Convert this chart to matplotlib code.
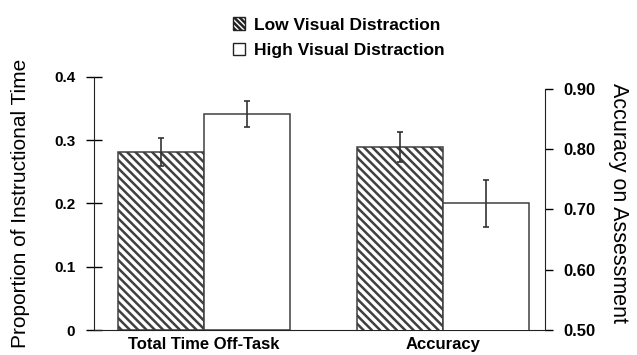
import numpy as np
import matplotlib.pyplot as plt
from matplotlib.patches import Patch

# ======= DADOS =======
groups = ["Total Time Off-Task", "Accuracy"]
series = ["Low Visual Distraction", "High Visual Distraction"]
offtask = [0.281, 0.341]       # eixo esquerdo
offtask_err = [0.022, 0.020]
accuracy = [0.803, 0.710]      # eixo direito
accuracy_err = [0.025, 0.039]

plt.rcParams["font.family"] = ["Liberation Sans", "DejaVu Sans"]
plt.rcParams["hatch.linewidth"] = 1.8

fig = plt.figure(figsize=(6.37, 3.55), dpi=100)
ax = fig.add_axes([94 / 637, 25 / 355, 451 / 637, 253.3 / 355])
ax2 = ax.twinx()

w = 0.36
edge = "#404040"
hatches = ["\\\\\\\\", ""]
ekw = dict(ecolor="#333333", elinewidth=1.2, capsize=2.5, capthick=1.2)

for i in range(2):
    ax.bar(0 + (i - 0.5) * w, offtask[i], w, yerr=offtask_err[i], color="white",
           edgecolor=edge, linewidth=1.1, hatch=hatches[i], error_kw=ekw, zorder=2)
    ax2.bar(1 + (i - 0.5) * w, accuracy[i], w, bottom=0, yerr=accuracy_err[i], color="white",
            edgecolor=edge, linewidth=1.1, hatch=hatches[i], error_kw=ekw, zorder=2)

ax.set_xlim(-0.46, 1.427)
ax.set_ylim(0, 0.4)
ax.set_yticks([0, 0.1, 0.2, 0.3, 0.4])
ax.set_yticklabels(["0", "0.1", "0.2", "0.3", "0.4"])
ax2.set_ylim(0.5, 0.5 + 0.4 * 253.3 / 241.3)
ax2.set_yticks([0.5, 0.6, 0.7, 0.8, 0.9])
ax2.set_yticklabels(["0.50", "0.60", "0.70", "0.80", "0.90"])
ax2.spines["right"].set_bounds(0.5, 0.9)

for a in (ax, ax2):
    a.spines["top"].set_visible(False)
ax.spines["right"].set_visible(False)
ax2.spines["left"].set_visible(False)
ax2.spines["bottom"].set_visible(False)
for sp in ["left", "bottom"]:
    ax.spines[sp].set_color("#222222")
ax2.spines["right"].set_color("#222222")

ax.set_xticks([0, 1])
ax.set_xticklabels(groups, fontweight="bold", fontsize=12)
ax.tick_params(axis="x", length=0, pad=5)
ax.tick_params(axis="y", direction="inout", length=11, width=1, pad=8, labelsize=11)
ax2.tick_params(axis="y", direction="out", length=6, width=1, pad=7, labelsize=12)
for lab in ax.get_yticklabels() + ax2.get_yticklabels():
    lab.set_fontweight("bold")

ax.set_ylabel("Proportion of Instructional Time", fontsize=15, labelpad=17)
ax2.set_ylabel("Accuracy on Assessment", fontsize=15.5, rotation=270, labelpad=24)

handles = [Patch(facecolor="white", edgecolor="#222222", hatch="\\\\\\\\\\\\", label=series[0]),
           Patch(facecolor="white", edgecolor="#222222", label=series[1])]
leg = fig.legend(handles=handles, loc="upper center", bbox_to_anchor=(0.532, 1.0),
                 frameon=False, handlelength=0.7, handleheight=0.7, handletextpad=0.5,
                 labelspacing=0.6, borderaxespad=0.6,
                 prop=dict(weight="bold", size=12.5))

fig.savefig("out.png", dpi=100)
